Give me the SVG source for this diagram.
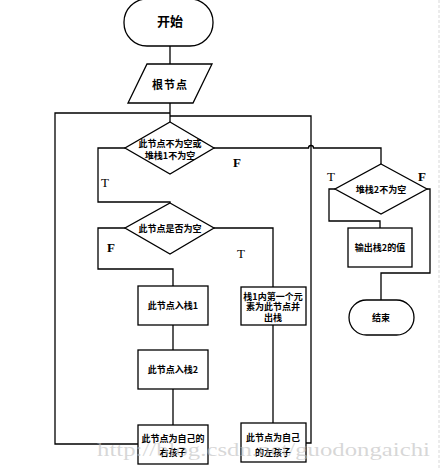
<svg xmlns="http://www.w3.org/2000/svg" width="440" height="468" viewBox="0 0 440 468">
<style>
.shape{fill:#fff;stroke:#000;stroke-width:1.3}
.conn{fill:none;stroke:#000;stroke-width:1.3}
.t{font-family:"Noto Sans CJK SC","Noto Sans",sans-serif;font-weight:bold;font-size:9px;fill:#000;text-anchor:middle;dominant-baseline:central}
.lbl{font-family:"Liberation Serif",serif;font-size:13px;fill:#000;text-anchor:middle;dominant-baseline:central}
.b{font-weight:bold}
</style>
<rect width="440" height="468" fill="#fff"/>
<line x1="439" y1="0" x2="439" y2="468" stroke="#d8d8d8" stroke-width="1" stroke-dasharray="3,2"/>
<g id="connectors">
<path class="conn" d="M170,46V64"/>
<path class="conn" d="M170,103V122"/>
<path class="conn" d="M138,444H55V113H170"/>
<path class="conn" d="M306,443H311V116H170"/>
<path class="conn" d="M125,148H98V202H170V203"/>
<path class="conn" d="M214,148H308.5a2.5,2.5 0 0 1 5,0H381V164"/>
<path class="conn" d="M125,228H98V269H173V286"/>
<path class="conn" d="M214,228H273V287"/>
<path class="conn" d="M173,325V350"/>
<path class="conn" d="M173,389V425"/>
<path class="conn" d="M273,325V423"/>
<path class="conn" d="M335,189H329V221H380V228"/>
<path class="conn" d="M427,189H430V273H381V300"/>
</g>
<g id="start">
<rect class="shape" x="124" y="-1" width="89" height="47" rx="23" ry="23"/>
<text class="t" x="170" y="20" style="font-size:13px">开始</text>
</g>
<g id="root">
<polygon class="shape" points="147,64 212,64 193,103 128,103"/>
<text class="t" x="170" y="84" style="font-size:11px;letter-spacing:1px">根节点</text>
</g>
<g id="cond1">
<polygon class="shape" points="170,122 214,148 170,174 125,148"/>
<text class="t" x="170" y="143">此节点不为空或</text>
<text class="t" x="170" y="155">堆栈1不为空</text>
</g>
<g id="cond2">
<polygon class="shape" points="170,203 214,228 170,254 125,228"/>
<text class="t" x="170" y="228">此节点是否为空</text>
</g>
<g id="push1">
<rect class="shape" x="138" y="286" width="70" height="39"/>
<text class="t" x="173" y="305">此节点入栈1</text>
</g>
<g id="push2">
<rect class="shape" x="138" y="350" width="70" height="39"/>
<text class="t" x="173" y="369">此节点入栈2</text>
</g>
<g id="right">
<rect class="shape" x="138" y="425" width="70" height="39"/>
<text class="t" x="173" y="438">此节点为自己的</text>
<text class="t" x="173" y="452">右孩子</text>
</g>
<g id="pop">
<rect class="shape" x="241" y="287" width="65" height="38"/>
<text class="t" x="273" y="296">栈1内第一个元</text>
<text class="t" x="273" y="306.5">素为此节点并</text>
<text class="t" x="273" y="317">出栈</text>
</g>
<g id="left">
<rect class="shape" x="241" y="423" width="65" height="39"/>
<text class="t" x="273" y="437">此节点为自己</text>
<text class="t" x="273" y="452">的左孩子</text>
</g>
<g id="cond3">
<polygon class="shape" points="381,164 427,189 381,214 335,189"/>
<text class="t" x="381" y="189">堆栈2不为空</text>
</g>
<g id="output">
<rect class="shape" x="348" y="228" width="64" height="39"/>
<text class="t" x="380" y="247">输出栈2的值</text>
</g>
<g id="end">
<rect class="shape" x="349" y="300" width="65" height="35" rx="17.5" ry="17.5"/>
<text class="t" x="381" y="317">结束</text>
</g>
<g id="labels">
<text class="lbl" x="105" y="182">T</text>
<text class="lbl b" x="237" y="162">F</text>
<text class="lbl b" x="111" y="247">F</text>
<text class="lbl" x="241" y="253">T</text>
<text class="lbl" x="331" y="176">T</text>
<text class="lbl b" x="422" y="176">F</text>
</g>
<text x="97" y="456" textLength="333" lengthAdjust="spacingAndGlyphs" style="font-family:'Liberation Serif',serif;font-size:19px;fill:#bdbdbd;fill-opacity:0.6">http://blog.csdn.net/guodongaichi</text>
</svg>
